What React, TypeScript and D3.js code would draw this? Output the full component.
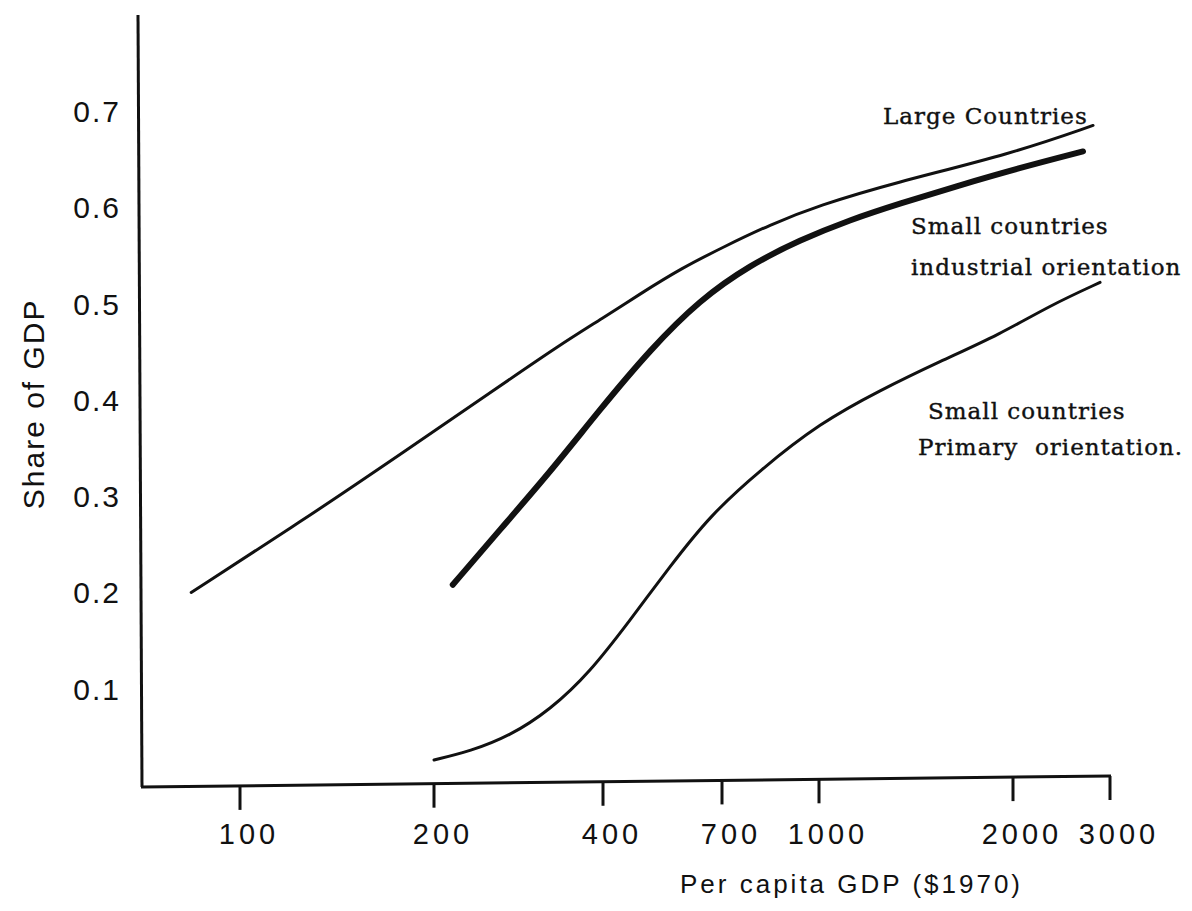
import { useEffect, useRef } from 'react';
import * as d3 from 'd3';

// x ticks (per capita GDP, $1970) and y ticks (share of GDP)
const xTicks = [100, 200, 400, 700, 1000, 2000, 3000];
const yTicks = [0.1, 0.2, 0.3, 0.4, 0.5, 0.6, 0.7];

// curves: [gdp per capita, share]
const largeCountries: [number, number][] = [
  [84, 0.20], [124, 0.273], [177, 0.343], [260, 0.413], [335, 0.457],
  [400, 0.485], [476, 0.51], [580, 0.537], [700, 0.558], [835, 0.582],
  [1000, 0.602], [1300, 0.625], [2000, 0.656], [2795, 0.685],
];
const smallIndustrial: [number, number][] = [
  [216, 0.208], [262, 0.265], [322, 0.325], [395, 0.39], [499, 0.452],
  [631, 0.504], [776, 0.54], [932, 0.566], [1117, 0.587], [1335, 0.604],
  [1655, 0.623], [2059, 0.641], [2680, 0.658],
];
const smallPrimary: [number, number][] = [
  [200, 0.026], [232, 0.035], [273, 0.051], [322, 0.078], [379, 0.117],
  [454, 0.171], [548, 0.227], [662, 0.28], [805, 0.327], [1004, 0.376],
  [1244, 0.41], [1541, 0.44], [1908, 0.468], [2334, 0.498], [2878, 0.522],
];

const W = 1192, H = 911;
const sans = '"Liberation Sans", Arial, sans-serif';
const serif = '"DejaVu Serif", serif';

export default function App() {
  const ref = useRef<SVGSVGElement>(null);

  useEffect(() => {
    const svg = d3.select(ref.current);
    svg.selectAll('*').remove();

    // hand-drawn axis: tick spacing is not quite regular, so the log scale is piecewise
    const x = d3.scaleLog().domain(xTicks).range([240, 434, 603, 722, 819, 1013, 1110]);
    const y = d3.scaleLinear().domain([0, 0.7]).range([785, 111]);

    const ink = '#111';
    // the original x axis rises a little towards the right
    const axisY = (px: number) => y(0) + 2 - (px - 142) * (11 / 968);

    // axes
    svg.append('line').attr('x1', 138).attr('x2', 142).attr('y1', 15).attr('y2', axisY(142))
      .attr('stroke', ink).attr('stroke-width', 3);
    svg.append('line').attr('x1', 141).attr('x2', x(3000) + 1)
      .attr('y1', axisY(142)).attr('y2', axisY(x(3000)))
      .attr('stroke', ink).attr('stroke-width', 3);

    const xt = svg.append('g');
    xTicks.forEach(t => {
      xt.append('line').attr('x1', x(t)).attr('x2', x(t))
        .attr('y1', axisY(x(t))).attr('y2', axisY(x(t)) + 24)
        .attr('stroke', ink).attr('stroke-width', 3);
      xt.append('text').attr('x', x(t) + 9).attr('y', 844).attr('text-anchor', 'middle')
        .style('font-family', sans).style('font-size', '29px').style('letter-spacing', '4px')
        .style('fill', ink).text(t);
    });

    yTicks.forEach(t => {
      svg.append('text').attr('x', 121).attr('y', y(t) + 11).attr('text-anchor', 'end')
        .style('font-family', sans).style('font-size', '30px').style('letter-spacing', '2px')
        .style('fill', ink).text(t.toFixed(1));
    });

    svg.append('text').attr('transform', `translate(44, ${y(0.4) + 4}) rotate(-90)`)
      .attr('text-anchor', 'middle')
      .style('font-family', sans).style('font-size', '30px').style('letter-spacing', '2px')
      .style('fill', ink).text('Share of GDP');

    svg.append('text').attr('x', 680).attr('y', 893)
      .style('font-family', sans).style('font-size', '26px').style('letter-spacing', '3px')
      .style('fill', ink).text('Per capita GDP ($1970)');

    // curves — smoothed like the hand-drawn originals
    const line = d3.line<[number, number]>()
      .x(d => x(d[0])).y(d => y(d[1]))
      .curve(d3.curveBasis);

    const series: { data: [number, number][]; w: number }[] = [
      { data: largeCountries, w: 3 },
      { data: smallIndustrial, w: 6 },
      { data: smallPrimary, w: 3 },
    ];
    series.forEach(s => {
      svg.append('path').attr('d', line(s.data))
        .attr('fill', 'none').attr('stroke', ink).attr('stroke-width', s.w)
        .attr('stroke-linecap', 'round');
    });

    // curve labels
    const labels: [string, number, number][] = [
      ['Large Countries', 883, 124],
      ['Small countries', 911, 234],
      ['industrial orientation', 911, 275],
      ['Small countries', 928, 419],
      ['Primary  orientation.', 918, 455],
    ];
    labels.forEach(([t, lx, ly]) => {
      svg.append('text').attr('x', lx).attr('y', ly)
        .style('font-family', serif).style('font-size', '23px').style('letter-spacing', '1px')
        .style('white-space', 'pre')
        .attr('stroke', ink).attr('stroke-width', 0.4)
        .style('fill', ink).text(t);
    });
  }, []);

  return (
    <svg ref={ref} width={W} height={H} style={{ display: 'block', background: '#fff', margin: -8 }} />
  );
}
